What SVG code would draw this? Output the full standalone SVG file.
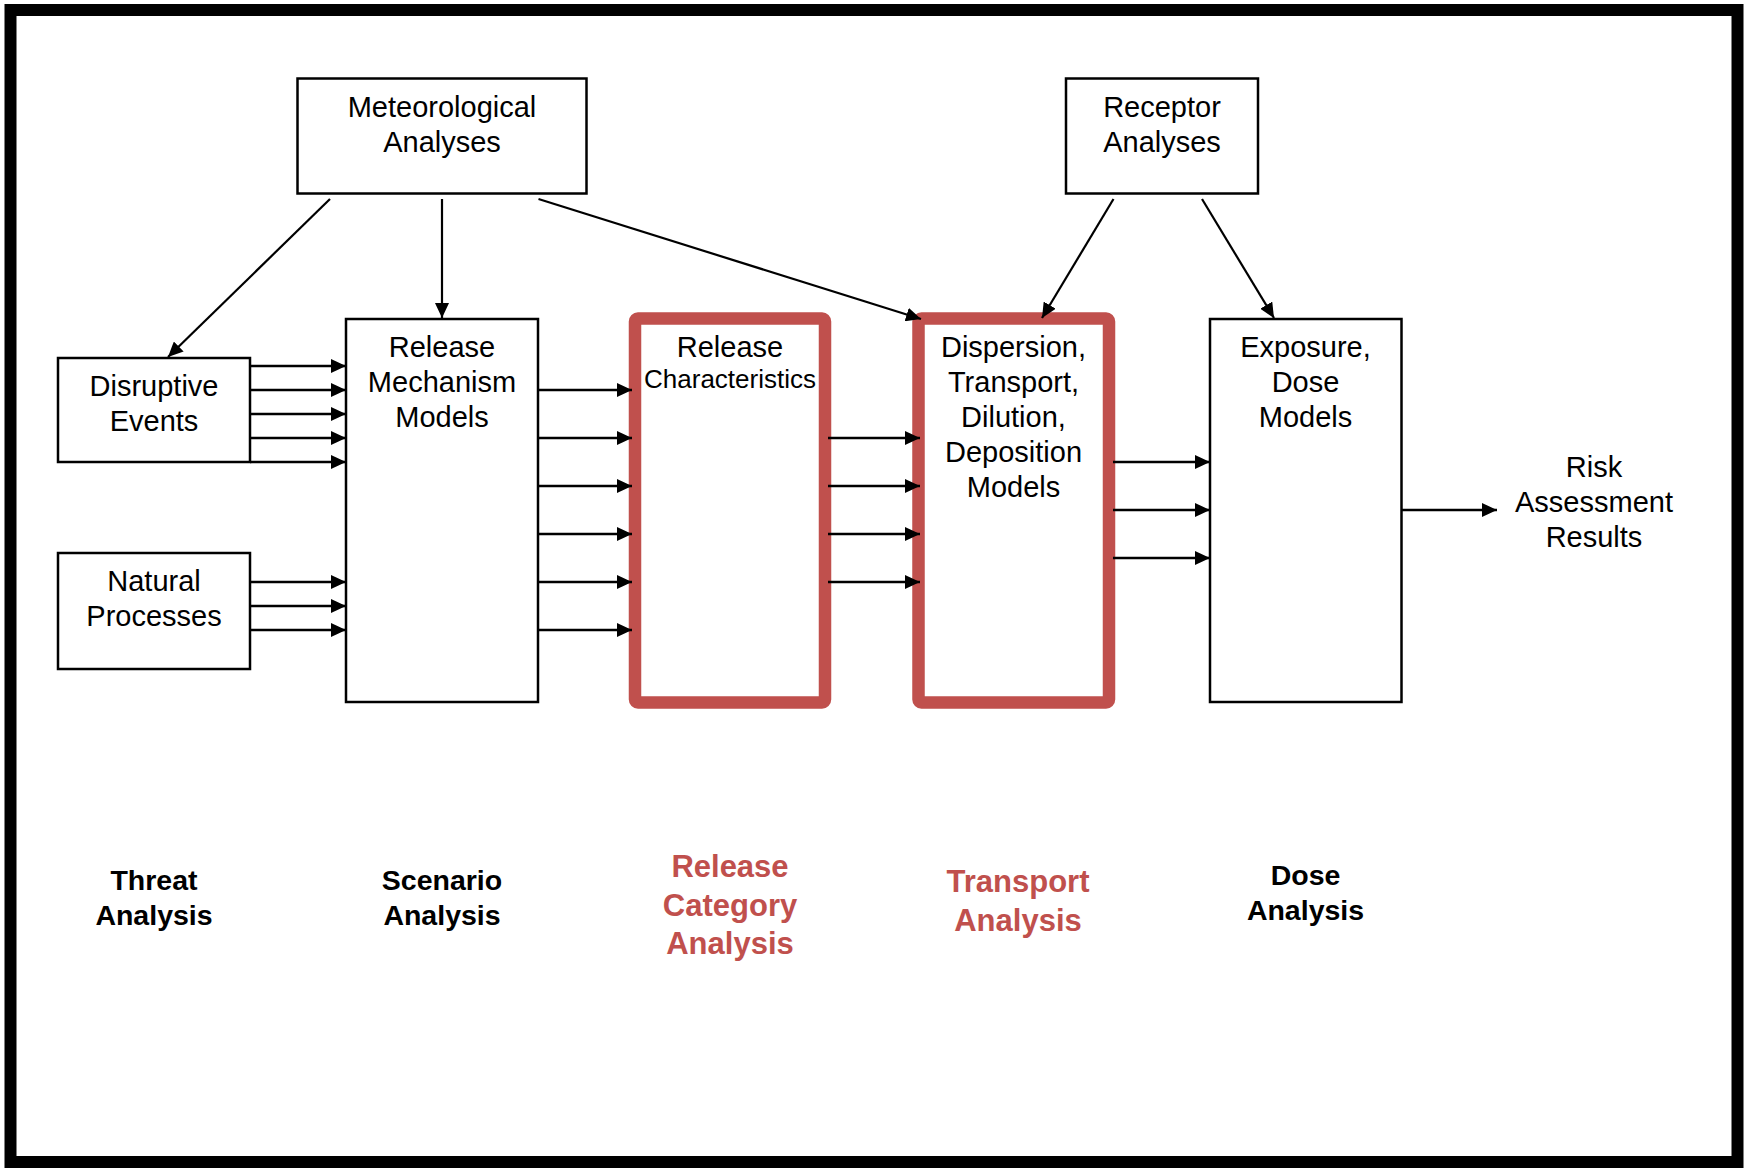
<svg xmlns="http://www.w3.org/2000/svg" width="1744" height="1168" viewBox="0 0 1744 1168">
<style>
.box{fill:#fff;stroke:#000;stroke-width:2.5}
.red{fill:#fff;stroke:#C0504D;stroke-width:12.5}
.t{font-family:"Liberation Sans",Arial,sans-serif;font-size:29px;fill:#000;text-anchor:middle}
.s{font-size:26px}
.lb{font-family:"Liberation Sans",Arial,sans-serif;font-size:28.5px;font-weight:bold;fill:#000;text-anchor:middle}
.lr{font-family:"Liberation Sans",Arial,sans-serif;font-size:31px;font-weight:bold;fill:#C0504D;text-anchor:middle}
.c{stroke:#000;stroke-width:2.6;fill:none;marker-end:url(#ah)}
.d{stroke:#000;stroke-width:2.2;fill:none;marker-end:url(#ah)}
</style>
<defs>
<marker id="ah" markerUnits="userSpaceOnUse" markerWidth="16" markerHeight="14" refX="15" refY="7" orient="auto">
<path d="M0,0 L15,7 L0,14 Z" fill="#000"/>
</marker>
</defs>
<rect x="0" y="0" width="1744" height="1168" fill="#fff"/>
<rect x="10.5" y="10" width="1727" height="1152" fill="none" stroke="#000" stroke-width="12"/>

<g id="meteorological">
<rect class="box" x="297.5" y="78.5" width="289" height="115"/>
<text class="t" x="442" y="117">Meteorological</text>
<text class="t" x="442" y="152">Analyses</text>
</g>
<g id="receptor">
<rect class="box" x="1066" y="78.5" width="192" height="115"/>
<text class="t" x="1162" y="117">Receptor</text>
<text class="t" x="1162" y="152">Analyses</text>
</g>
<g id="disruptive">
<rect class="box" x="58" y="358" width="192" height="104"/>
<text class="t" x="154" y="396">Disruptive</text>
<text class="t" x="154" y="431">Events</text>
</g>
<g id="natural">
<rect class="box" x="58" y="553" width="192" height="116"/>
<text class="t" x="154" y="591">Natural</text>
<text class="t" x="154" y="626">Processes</text>
</g>
<g id="release-mechanism">
<rect class="box" x="346" y="319" width="192" height="383"/>
<text class="t" x="442" y="357">Release</text>
<text class="t" x="442" y="392">Mechanism</text>
<text class="t" x="442" y="427">Models</text>
</g>
<g id="release-characteristics">
<rect class="red" x="635" y="318.5" width="190" height="384" rx="3"/>
<text class="t" x="730" y="357">Release</text>
<text class="t s" x="730" y="388">Characteristics</text>
</g>
<g id="dispersion">
<rect class="red" x="918.5" y="318.5" width="190.5" height="384" rx="3"/>
<text class="t" x="1013.5" y="357">Dispersion,</text>
<text class="t" x="1013.5" y="392">Transport,</text>
<text class="t" x="1013.5" y="427">Dilution,</text>
<text class="t" x="1013.5" y="462">Deposition</text>
<text class="t" x="1013.5" y="497">Models</text>
</g>
<g id="exposure">
<rect class="box" x="1210" y="319" width="191.5" height="383"/>
<text class="t" x="1305.5" y="357">Exposure,</text>
<text class="t" x="1305.5" y="392">Dose</text>
<text class="t" x="1305.5" y="427">Models</text>
</g>
<g id="risk">
<text class="t" x="1594" y="477">Risk</text>
<text class="t" x="1594" y="512">Assessment</text>
<text class="t" x="1594" y="547">Results</text>
</g>

<g id="threat-label"><text class="lb" x="154" y="890">Threat</text><text class="lb" x="154" y="925">Analysis</text></g>
<g id="scenario-label"><text class="lb" x="442" y="890">Scenario</text><text class="lb" x="442" y="925">Analysis</text></g>
<g id="release-category-label"><text class="lr" x="730" y="877">Release</text><text class="lr" x="730" y="915.5">Category</text><text class="lr" x="730" y="954">Analysis</text></g>
<g id="transport-label"><text class="lr" x="1018" y="892">Transport</text><text class="lr" x="1018" y="930.5">Analysis</text></g>
<g id="dose-label"><text class="lb" x="1305.5" y="885">Dose</text><text class="lb" x="1305.5" y="920">Analysis</text></g>

<g id="connectors">
<line class="d" x1="330" y1="199" x2="168" y2="357"/>
<line class="d" x1="442" y1="199" x2="442" y2="318"/>
<line class="d" x1="538.5" y1="199" x2="921" y2="319"/>
<line class="d" x1="1113.5" y1="199" x2="1042" y2="318"/>
<line class="d" x1="1202" y1="199" x2="1274" y2="318"/>

<line class="c" x1="250" y1="366" x2="346" y2="366"/>
<line class="c" x1="250" y1="390" x2="346" y2="390"/>
<line class="c" x1="250" y1="414" x2="346" y2="414"/>
<line class="c" x1="250" y1="438" x2="346" y2="438"/>
<line class="c" x1="250" y1="462" x2="346" y2="462"/>
<line class="c" x1="250" y1="582" x2="346" y2="582"/>
<line class="c" x1="250" y1="606" x2="346" y2="606"/>
<line class="c" x1="250" y1="630" x2="346" y2="630"/>

<line class="c" x1="538" y1="390" x2="632" y2="390"/>
<line class="c" x1="538" y1="438" x2="632" y2="438"/>
<line class="c" x1="538" y1="486" x2="632" y2="486"/>
<line class="c" x1="538" y1="534" x2="632" y2="534"/>
<line class="c" x1="538" y1="582" x2="632" y2="582"/>
<line class="c" x1="538" y1="630" x2="632" y2="630"/>

<line class="c" x1="828" y1="438" x2="920" y2="438"/>
<line class="c" x1="828" y1="486" x2="920" y2="486"/>
<line class="c" x1="828" y1="534" x2="920" y2="534"/>
<line class="c" x1="828" y1="582" x2="920" y2="582"/>

<line class="c" x1="1113" y1="462" x2="1210" y2="462"/>
<line class="c" x1="1113" y1="510" x2="1210" y2="510"/>
<line class="c" x1="1113" y1="558" x2="1210" y2="558"/>

<line class="c" x1="1401" y1="510" x2="1497" y2="510"/>
</g>
</svg>
